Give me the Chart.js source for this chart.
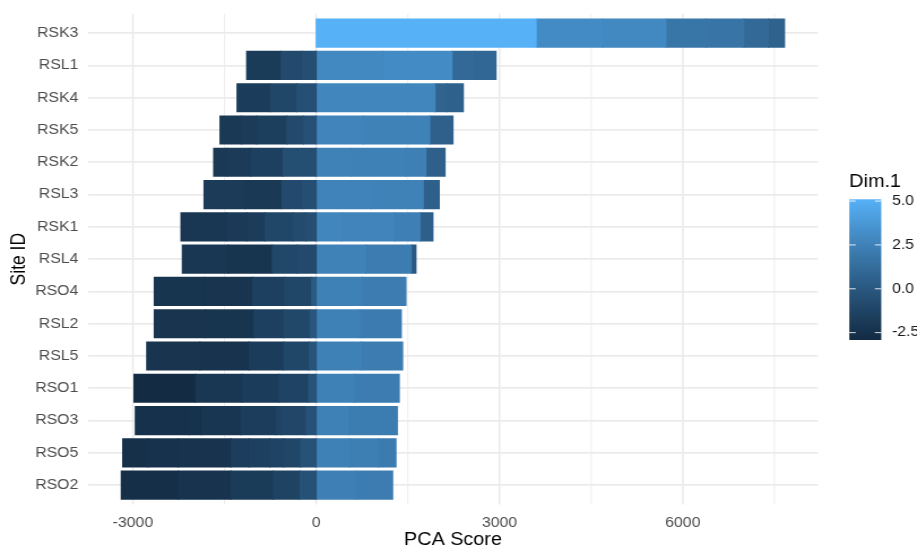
<!DOCTYPE html>
<html>
<head>
<meta charset="utf-8">
<script src="https://cdn.jsdelivr.net/npm/chart.js@4/dist/chart.umd.min.js"></script>
<style>
  html, body { margin: 0; padding: 0; background: #ffffff; overflow: hidden; }
  #frame { width: 917px; height: 547px; overflow: hidden; position: relative; background: #ffffff; }
  /* the plot is laid out on a narrower canvas and widened to the frame */
  #stage { width: 811px; height: 547px; transform: scaleX(1.1307); transform-origin: 0 0; }
</style>
</head>
<body>
<div id="frame"><div id="stage"><canvas id="chart" width="811" height="547"></canvas></div></div>
<script>
// ---- data -------------------------------------------------------------
const sites = ['RSK3', 'RSL1', 'RSK4', 'RSK5', 'RSK2', 'RSL3', 'RSK1', 'RSL4',
               'RSO4', 'RSL2', 'RSL5', 'RSO1', 'RSO3', 'RSO5', 'RSO2'];

// PCA score pieces per site: negative pieces from zero outward, then positive pieces from zero outward
const scoreParts = [
  [3600, 1090, 1035, 655, 620, 400, 265],
  [-227, -344, -567, 1100, 1123, 360, 360],
  [-314, -437, -545, 1944, 192, 272],
  [-205, -273, -496, -245, -355, 771, 1088, 380],
  [-543, -524, -388, -223, 581, 885, 331, 313],
  [-227, -333, -605, -671, 897, 856, 262],
  [-167, -208, -458, -294, -338, -748, 417, 861, 421, 212],
  [-309, -409, -720, -753, 810, 747, 76],
  [-74, -442, -523, -786, -825, 755, 715],
  [-101, -431, -486, -791, -841, 717, 676],
  [-113, -419, -563, -807, -872, 744, 671],
  [-123, -486, -600, -763, -1010, 624, 736],
  [-167, -398, -88, -578, -643, -208, -878, 526, 802],
  [-249, -283, -229, -334, -299, -863, -491, -419, 542, 474, 290],
  [-265, -437, -692, -863, -933, 651, 601]
];

// Dim.1 value of each piece (sets its fill)
const dim1Parts = [
  [5.1, 3.0, 2.85, 1.8, 1.7, 1.0, 0.6],
  [-0.6, -0.85, -1.8, 2.85, 3.0, 1.0, 0.9],
  [-0.55, -1.1, -1.75, 2.75, 0.7, 0.55],
  [-0.5, -0.85, -1.6, -1.85, -2.0, 2.6, 2.5, 0.5],
  [-0.6, -1.5, -1.85, -2.0, 2.5, 2.45, 2.35, 0.5],
  [-0.6, -0.9, -2.0, -1.85, 2.55, 2.5, 0.5],
  [-0.65, -0.8, -1.1, -1.75, -1.9, -2.15, 2.7, 2.6, 2.35, 0.45],
  [-0.85, -1.05, -2.25, -2.15, 2.5, 2.15, 0.0],
  [0.1, -1.1, -1.5, -2.3, -2.25, 2.45, 2.15],
  [-0.1, -1.05, -1.5, -2.25, -2.3, 2.4, 2.1],
  [-0.25, -1.1, -1.75, -2.35, -2.3, 2.4, 2.15],
  [-0.3, -1.3, -1.75, -2.1, -2.9, 2.4, 2.15],
  [-0.35, -1.15, -1.3, -1.7, -2.2, -2.45, -2.5, 2.4, 2.2],
  [-0.4, -1.1, -1.3, -1.5, -1.7, -2.35, -2.45, -2.55, 2.4, 2.25, 2.1],
  [-0.45, -1.35, -1.8, -2.35, -2.65, 2.35, 2.15]
];

const xRange = [-3733, 8210];
const xTicks = [-3000, 0, 3000, 6000];
const xMinorTicks = [-1500, 1500, 4500, 7500];

const dim1Limits = [-2.92, 5.1];
const dim1Breaks = [5.0, 2.5, 0.0, -2.5];
const lowColour = '#132B43';
const highColour = '#56B1F7';

// ---- colour scale (interpolated in CIE Lab) ---------------------------
function hexToRgb(h) { return [1, 3, 5].map(i => parseInt(h.slice(i, i + 2), 16)); }
function toLinear(c) { c /= 255; return c <= 0.04045 ? c / 12.92 : Math.pow((c + 0.055) / 1.055, 2.4); }
function fromLinear(c) {
  c = c <= 0.0031308 ? 12.92 * c : 1.055 * Math.pow(c, 1 / 2.4) - 0.055;
  return Math.round(Math.max(0, Math.min(1, c)) * 255);
}
const WN = [0.95047, 1.0, 1.08883];
const EPS = 216 / 24389, KAP = 24389 / 27;
function rgbToLab(rgb) {
  const [r, g, b] = rgb.map(toLinear);
  const X = (0.4124564 * r + 0.3575761 * g + 0.1804375 * b) / WN[0];
  const Y = (0.2126729 * r + 0.7151522 * g + 0.0721750 * b) / WN[1];
  const Z = (0.0193339 * r + 0.1191920 * g + 0.9503041 * b) / WN[2];
  const f = t => t > EPS ? Math.cbrt(t) : (KAP * t + 16) / 116;
  const fx = f(X), fy = f(Y), fz = f(Z);
  return [116 * fy - 16, 500 * (fx - fy), 200 * (fy - fz)];
}
function labToRgb([L, a, bb]) {
  const fy = (L + 16) / 116, fx = fy + a / 500, fz = fy - bb / 200;
  const inv = f => { const f3 = f * f * f; return f3 > EPS ? f3 : (116 * f - 16) / KAP; };
  const X = inv(fx) * WN[0], Y = inv(fy) * WN[1], Z = inv(fz) * WN[2];
  const r = 3.2404542 * X - 1.5371385 * Y - 0.4985314 * Z;
  const g = -0.9692660 * X + 1.8760108 * Y + 0.0415560 * Z;
  const b = 0.0556434 * X - 0.2040259 * Y + 1.0572252 * Z;
  return [fromLinear(r), fromLinear(g), fromLinear(b)];
}
const lowLab = rgbToLab(hexToRgb(lowColour));
const highLab = rgbToLab(hexToRgb(highColour));
function dim1Colour(d) {
  let t = (d - dim1Limits[0]) / (dim1Limits[1] - dim1Limits[0]);
  t = Math.max(0, Math.min(1, t));
  const [r, g, b] = labToRgb(lowLab.map((v, i) => v + (highLab[i] - v) * t));
  return `rgb(${r},${g},${b})`;
}

// ---- datasets: one per piece position ----------------------------------
const nParts = Math.max(...scoreParts.map(p => p.length));
const datasets = [];
for (let k = 0; k < nParts; k++) {
  datasets.push({
    data: scoreParts.map(p => (k < p.length ? p[k] : null)),
    backgroundColor: dim1Parts.map(d => (k < d.length ? dim1Colour(d[k]) : 'rgba(0,0,0,0)')),
    borderWidth: 0,
    inflateAmount: 0.5,
    barPercentage: 0.872,
    categoryPercentage: 1.0
  });
}

const FONT = "'Liberation Sans', Arial, Helvetica, sans-serif";

// vertical grid lines spanning the full panel (panel reaches 0.6 of a row past the outer rows)
const panelGrid = {
  id: 'panelGrid',
  beforeDatasetsDraw(chart) {
    const { ctx, chartArea: ca, scales: { x } } = chart;
    const step = (ca.bottom - ca.top) / sites.length;
    const top = ca.top - 0.1 * step, bottom = ca.bottom + 0.1 * step;
    ctx.save();
    ctx.strokeStyle = '#EBEBEB';
    const line = (v, w) => {
      const px = x.getPixelForValue(v);
      ctx.lineWidth = w;
      ctx.beginPath(); ctx.moveTo(px, top); ctx.lineTo(px, bottom); ctx.stroke();
    };
    xMinorTicks.forEach(v => line(v, 0.9));
    xTicks.forEach(v => line(v, 1.6));
    ctx.restore();
  }
};

// continuous colour bar legend for Dim.1
const colourBar = {
  id: 'colourBar',
  afterDraw(chart) {
    const ctx = chart.ctx;
    const left = 751.1, right = 779.4, top = 199.3, bottom = 340;
    const w = right - left, h = bottom - top;
    const yOf = v => bottom - (v - dim1Limits[0]) / (dim1Limits[1] - dim1Limits[0]) * h;
    ctx.save();
    const grad = ctx.createLinearGradient(0, bottom, 0, top);
    const n = 60;
    for (let i = 0; i <= n; i++) {
      const v = dim1Limits[0] + (dim1Limits[1] - dim1Limits[0]) * i / n;
      grad.addColorStop(i / n, dim1Colour(v));
    }
    ctx.fillStyle = grad;
    ctx.fillRect(left, top, w, h);

    ctx.strokeStyle = 'rgba(255,255,255,0.85)';
    ctx.lineWidth = 1;
    const tl = w / 5;
    dim1Breaks.forEach(v => {
      const y = yOf(v);
      ctx.beginPath();
      ctx.moveTo(left, y); ctx.lineTo(left + tl, y);
      ctx.moveTo(right - tl, y); ctx.lineTo(right, y);
      ctx.stroke();
    });

    ctx.fillStyle = '#1A1A1A';
    ctx.font = `14px ${FONT}`;
    ctx.textAlign = 'left';
    ctx.textBaseline = 'middle';
    dim1Breaks.forEach(v => ctx.fillText(v.toFixed(1), 788.9, yOf(v)));

    ctx.fillStyle = '#000000';
    ctx.font = `17.5px ${FONT}`;
    ctx.fillText('Dim.1', left, 182);
    ctx.restore();
  }
};

new Chart(document.getElementById('chart'), {
  type: 'bar',
  data: { labels: sites, datasets },
  options: {
    indexAxis: 'y',
    responsive: false,
    animation: false,
    devicePixelRatio: 1,
    layout: { padding: { left: 0, right: 87.7, top: 10.1, bottom: 0 } },
    plugins: { legend: { display: false }, tooltip: { enabled: false } },
    scales: {
      x: {
        type: 'linear',
        stacked: true,
        min: xRange[0],
        max: xRange[1],
        afterBuildTicks: s => { s.ticks = xTicks.map(v => ({ value: v })); },
        afterFit: s => { s.height = 45.7; },
        grid: { display: false },
        border: { display: false },
        ticks: {
          autoSkip: false, maxRotation: 0, minRotation: 0, padding: 5,
          color: '#4D4D4D', font: { family: FONT, size: 14 },
          callback: v => String(v)
        },
        title: {
          display: true, text: 'PCA Score', color: '#000000', padding: 0,
          font: { family: FONT, size: 17.5, lineHeight: 0.75 }
        }
      },
      y: {
        stacked: true,
        afterFit: s => { s.width = 77.9; },
        grid: { offset: false, color: '#EBEBEB', lineWidth: 1.8, drawTicks: false },
        border: { display: false },
        ticks: { padding: 8.6, color: '#4D4D4D', font: { family: FONT, size: 14 } },
        title: {
          display: true, text: 'Site ID', color: '#000000',
          padding: { top: 6.5, bottom: 0 },
          font: { family: FONT, size: 17.5, lineHeight: 1.2 }
        }
      }
    }
  },
  plugins: [panelGrid, colourBar]
});
</script>
</body>
</html>
